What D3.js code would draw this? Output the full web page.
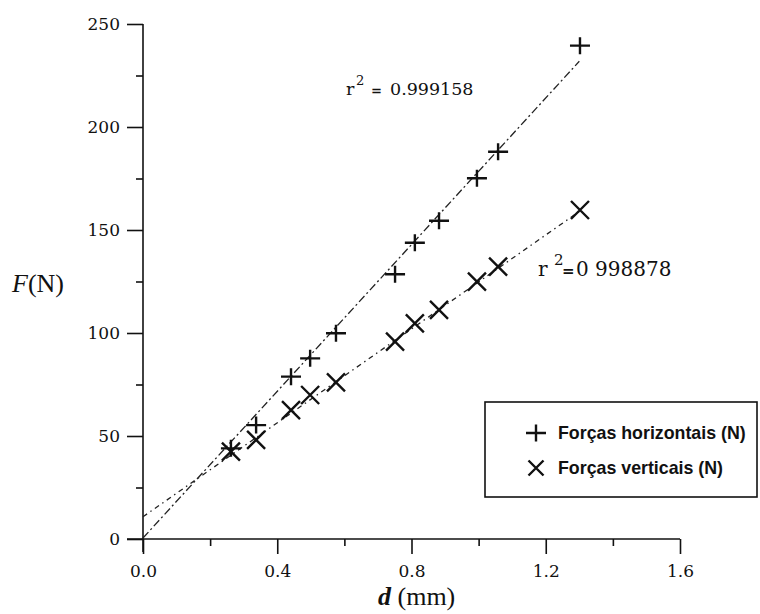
<!DOCTYPE html>
<html>
<head>
<meta charset="utf-8">
<script src="https://cdn.jsdelivr.net/npm/d3@7"></script>
<style>
  body { margin: 0; background: #fff; }
  svg { display: block; }
</style>
</head>
<body>
<svg id="chart" width="760" height="614"></svg>
<script>
// Displacement d (mm) of each measurement
const displacement = [0.262, 0.337, 0.441, 0.498, 0.575, 0.751, 0.810, 0.882, 0.995, 1.058, 1.302];
// Measured forces (N)
const horizontalForce = [44.0, 55.3, 78.8, 87.7, 99.9, 128.5, 143.8, 154.5, 175.1, 188.0, 239.5];
const verticalForce = [42.4, 48.1, 62.6, 69.9, 76.0, 95.8, 104.7, 111.2, 124.9, 132.2, 159.7];
// Linear fits: [intercept, slope]
const horizontalFit = [0.5, 178];
const verticalFit = [10.8, 114];
const fitRange = [0, 1.30];
// Axis ticks
const xTicks = [0, 0.4, 0.8, 1.2, 1.6];
const xMinorTicks = [0.2, 0.6, 1.0, 1.4];
const yTicks = [0, 50, 100, 150, 200, 250];
const yMinorTicks = [25, 75, 125, 175, 225];
const rSquared = ["0.999158", "0 998878"];
const legendLabels = ["Forças horizontais (N)", "Forças verticais (N)"];

const svg = d3.select("#chart");
const ink = "#111";
const numFont = "'DejaVu Serif', serif";
const textFont = "'Liberation Serif', 'Times New Roman', serif";

const x = d3.scaleLinear().domain([0, 1.6]).range([143, 680]);
const y = d3.scaleLinear().domain([0, 250]).range([539, 24]);

// ---- axes ----
function styleAxis(g) {
  g.select(".domain").remove();
  g.selectAll(".tick line").attr("stroke", ink).attr("stroke-width", 1.6);
  g.selectAll(".tick text")
    .attr("fill", ink)
    .attr("font-family", numFont)
    .attr("font-size", 17);
}

svg.append("g")
  .attr("transform", `translate(0,${y(0)})`)
  .call(d3.axisBottom(x).tickValues(xTicks).tickSize(15).tickPadding(11).tickFormat(d3.format(".1f")))
  .call(styleAxis);
svg.append("g")
  .attr("transform", `translate(0,${y(0)})`)
  .call(d3.axisBottom(x).tickValues(xMinorTicks).tickSize(7).tickFormat(""))
  .call(styleAxis);

svg.append("g")
  .attr("transform", `translate(${x(0)},0)`)
  .call(d3.axisLeft(y).tickValues(yTicks).tickSize(16).tickPadding(7).tickFormat(d3.format("d")))
  .call(styleAxis);
svg.append("g")
  .attr("transform", `translate(${x(0)},0)`)
  .call(d3.axisLeft(y).tickValues(yMinorTicks).tickSize(7).tickFormat(""))
  .call(styleAxis);

// axis lines, crossing slightly past the origin
svg.append("line")
  .attr("x1", x(0) - 16).attr("x2", x(1.6))
  .attr("y1", y(0)).attr("y2", y(0))
  .attr("stroke", ink).attr("stroke-width", 1.6);
svg.append("line")
  .attr("x1", x(0)).attr("x2", x(0))
  .attr("y1", y(0) + 13).attr("y2", y(250))
  .attr("stroke", ink).attr("stroke-width", 1.6);

// axis titles
const fLabel = svg.append("text")
  .attr("x", 12).attr("y", 292)
  .attr("font-family", textFont).attr("font-size", 26).attr("fill", ink);
fLabel.append("tspan").attr("font-style", "italic").text("F");
fLabel.append("tspan").text("(N)");

const dLabel = svg.append("text")
  .attr("x", 378).attr("y", 605)
  .attr("font-family", textFont).attr("font-size", 26).attr("fill", ink);
dLabel.append("tspan").attr("font-style", "italic").attr("font-weight", "bold").text("d");
dLabel.append("tspan").text(" (mm)");

// ---- fit lines ----
function fitLine(fit) {
  return fitRange.map(d => [x(d), y(fit[0] + fit[1] * d)]);
}
const line = d3.line();
svg.append("path")
  .attr("d", line(fitLine(horizontalFit)))
  .attr("fill", "none").attr("stroke", "#222").attr("stroke-width", 1.3)
  .attr("stroke-dasharray", "8,3,2,3");
svg.append("path")
  .attr("d", line(fitLine(verticalFit)))
  .attr("fill", "none").attr("stroke", "#222").attr("stroke-width", 1.3)
  .attr("stroke-dasharray", "5,4,1.5,4");

// ---- markers ----
const plusPath = "M-10,0H10M0,-8.5V8.5";
const crossPath = "M-9,-9L9,9M-9,9L9,-9";

svg.append("g").selectAll("path")
  .data(displacement.map((d, i) => [d, horizontalForce[i]]))
  .join("path")
  .attr("transform", d => `translate(${x(d[0])},${y(d[1])})`)
  .attr("d", plusPath)
  .attr("stroke", ink).attr("stroke-width", 2.4).attr("fill", "none");

svg.append("g").selectAll("path")
  .data(displacement.map((d, i) => [d, verticalForce[i]]))
  .join("path")
  .attr("transform", d => `translate(${x(d[0])},${y(d[1])})`)
  .attr("d", crossPath)
  .attr("stroke", ink).attr("stroke-width", 2.4).attr("fill", "none");

// ---- r² annotations ----
function rLabel(px, py, size, supGap, eqX, numX, value) {
  const t = svg.append("text")
    .attr("y", py)
    .attr("font-family", numFont).attr("font-size", size).attr("fill", ink);
  t.append("tspan").attr("x", px).text("r");
  t.append("tspan").attr("x", px + supGap).attr("dy", -size * 0.55)
    .attr("font-size", size * 0.75).text("2");
  t.append("tspan").attr("x", eqX).attr("dy", size * 0.55)
    .attr("font-size", size * 0.75).attr("font-weight", "bold").text("=");
  t.append("tspan").attr("x", numX).attr("font-weight", "normal").text(value);
}
rLabel(346, 95, 17.5, 10, 371, 390, rSquared[0]);
rLabel(538, 276, 20, 16, 562, 576, rSquared[1]);

// ---- legend ----
const legend = svg.append("g");
legend.append("rect")
  .attr("x", 485).attr("y", 402).attr("width", 272).attr("height", 95)
  .attr("fill", "#fff").attr("stroke", ink).attr("stroke-width", 1.6);
const legendMarks = [plusPath, "M-7.5,-7.5L7.5,7.5M-7.5,7.5L7.5,-7.5"];
legendLabels.forEach((label, i) => {
  const cy = 433 + i * 35;
  legend.append("path")
    .attr("transform", `translate(536,${cy})`)
    .attr("d", legendMarks[i])
    .attr("stroke", ink).attr("stroke-width", 2.4).attr("fill", "none");
  legend.append("text")
    .attr("x", 558).attr("y", cy).attr("dy", "0.35em")
    .attr("font-family", "'Liberation Sans', Arial, sans-serif")
    .attr("font-weight", "bold").attr("font-size", 17.8)
    .attr("fill", ink)
    .text(label);
});
</script>
</body>
</html>
